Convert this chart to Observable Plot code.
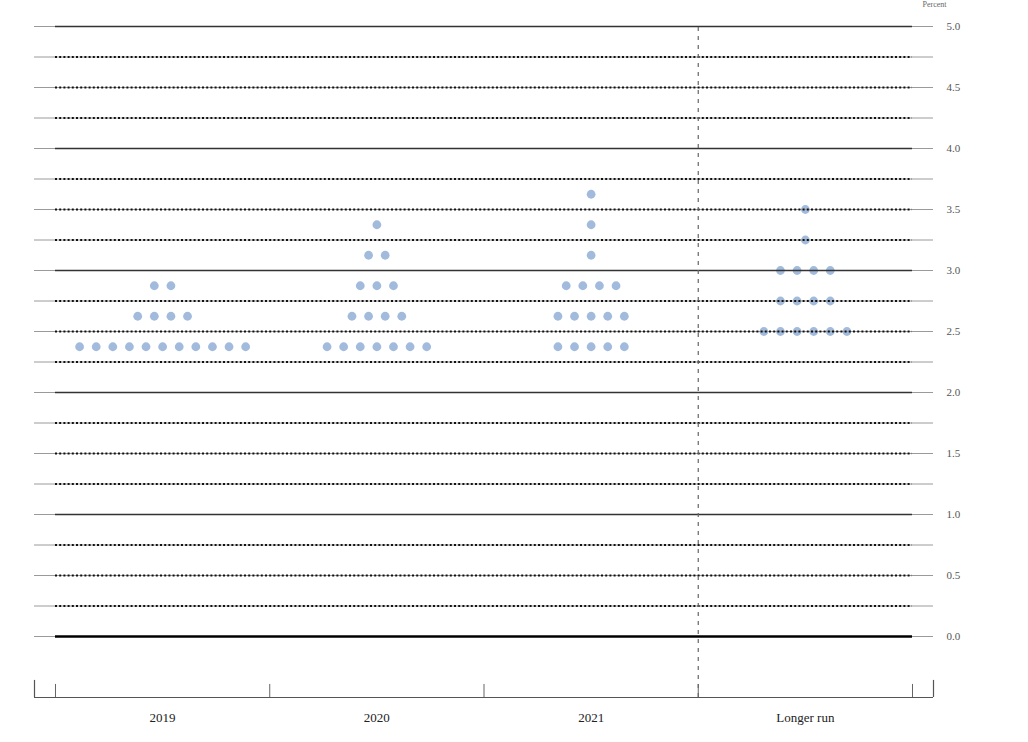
<!DOCTYPE html>
<html>
<head>
<meta charset="utf-8">
<script src="https://cdn.jsdelivr.net/npm/d3@7"></script>
<script src="https://cdn.jsdelivr.net/npm/@observablehq/plot@0.6"></script>
<style>
  html, body { margin: 0; padding: 0; background: #fff; }
  #chart svg { display: block; }
</style>
</head>
<body>
<div id="chart"></div>
<script>
// ---- Data ----
const categories = ["2019", "2020", "2021", "Longer run"];

const rates2019 = [2.375, 2.625, 2.875];
const counts2019 = [11, 4, 2];

const rates2020 = [2.375, 2.625, 2.875, 3.125, 3.375];
const counts2020 = [7, 4, 3, 2, 1];

const rates2021 = [2.375, 2.625, 2.875, 3.125, 3.375, 3.625];
const counts2021 = [5, 5, 4, 1, 1, 1];

const ratesLongerRun = [2.5, 2.75, 3.0, 3.25, 3.5];
const countsLongerRun = [6, 4, 4, 1, 1];

const gridLevels = [0, 0.25, 0.5, 0.75, 1, 1.25, 1.5, 1.75, 2, 2.25, 2.5, 2.75, 3,
                    3.25, 3.5, 3.75, 4, 4.25, 4.5, 4.75, 5];
const tickValues = [0, 0.5, 1, 1.5, 2, 2.5, 3, 3.5, 4, 4.5, 5];
const tickLabels = ["0.0", "0.5", "1.0", "1.5", "2.0", "2.5", "3.0", "3.5", "4.0", "4.5", "5.0"];

// ---- Build dot table ----
const series = [
  [rates2019, counts2019],
  [rates2020, counts2020],
  [rates2021, counts2021],
  [ratesLongerRun, countsLongerRun]
];
const spacing = 0.0775; // horizontal gap between dots, in category units
const dots = [];
series.forEach(([rates, counts], ci) => {
  rates.forEach((r, k) => {
    const n = counts[k];
    for (let i = 0; i < n; i++) {
      dots.push({x: ci + 0.5 + (i - (n - 1) / 2) * spacing, y: r});
    }
  });
});

const nCat = categories.length;
const pad = 0.098;
const xLo = -pad, xHi = nCat + pad;
const yLo = -0.5, yHi = 5;
const font = "'Liberation Serif', 'DejaVu Serif', serif";

const grid = gridLevels.map(v => ({v}));
const isInt = d => Number.isInteger(d.v);

const chart = Plot.plot({
  width: 1028,
  height: 742,
  marginTop: 26,
  marginBottom: 45,
  marginLeft: 34,
  marginRight: 95,
  x: {type: "linear", domain: [xLo, xHi], axis: null},
  y: {domain: [yLo, yHi], axis: null},
  style: {fontFamily: font, background: "#fff"},
  marks: [
    // dots (drawn beneath the gridlines)
    Plot.dot(dots, {x: "x", y: "y", r: 4.4, fill: "#a2bbdd", stroke: "none"}),
    // thin full-width gridlines
    Plot.ruleY(grid, {y: "v", x1: xLo, x2: xHi, stroke: "#9a9a9a", strokeWidth: 1}),
    // dotted quarter lines
    Plot.ruleY(grid.filter(d => !isInt(d)), {y: "v", x1: 0, x2: nCat, stroke: "#111",
      strokeWidth: 1.8, strokeDasharray: "2,2.2"}),
    // solid integer lines
    Plot.ruleY(grid.filter(d => isInt(d) && d.v !== 0), {y: "v", x1: 0, x2: nCat,
      stroke: "#333", strokeWidth: 1.4}),
    Plot.ruleY(grid.filter(d => d.v === 0), {y: "v", x1: 0, x2: nCat, stroke: "#000", strokeWidth: 2.6}),
    // vertical dashed separator before Longer run
    Plot.ruleX([nCat - 1], {y1: yLo, y2: yHi, stroke: "#666", strokeWidth: 1.2, strokeDasharray: "4,5"}),
    // bottom axis
    Plot.ruleY([yLo], {x1: xLo, x2: xHi, stroke: "#555", strokeWidth: 1.2}),
    Plot.ruleX(d3.range(0, nCat + 1), {y1: yLo, y2: yLo + 0.107, stroke: "#666", strokeWidth: 1}),
    Plot.ruleX([xLo, xHi], {y1: yLo, y2: yLo + 0.14, stroke: "#555", strokeWidth: 1.2}),
    // category labels
    Plot.text(categories, {x: (d, i) => i + 0.5, y: yLo, dy: 20, text: d => d,
      fontSize: 13, fill: "#222", fontFamily: font}),
    // y tick labels on the right
    Plot.text(tickValues, {x: xHi, y: d => d, dx: 13, text: (d, i) => tickLabels[i],
      textAnchor: "start", fontSize: 11, fill: "#555", fontFamily: font}),
    // unit label
    Plot.text(["Percent"], {x: xHi, y: yHi, dx: 1, dy: -22, text: d => d,
      fontSize: 8, fill: "#666", fontFamily: font})
  ]
});

document.getElementById("chart").appendChild(chart);
</script>
</body>
</html>
